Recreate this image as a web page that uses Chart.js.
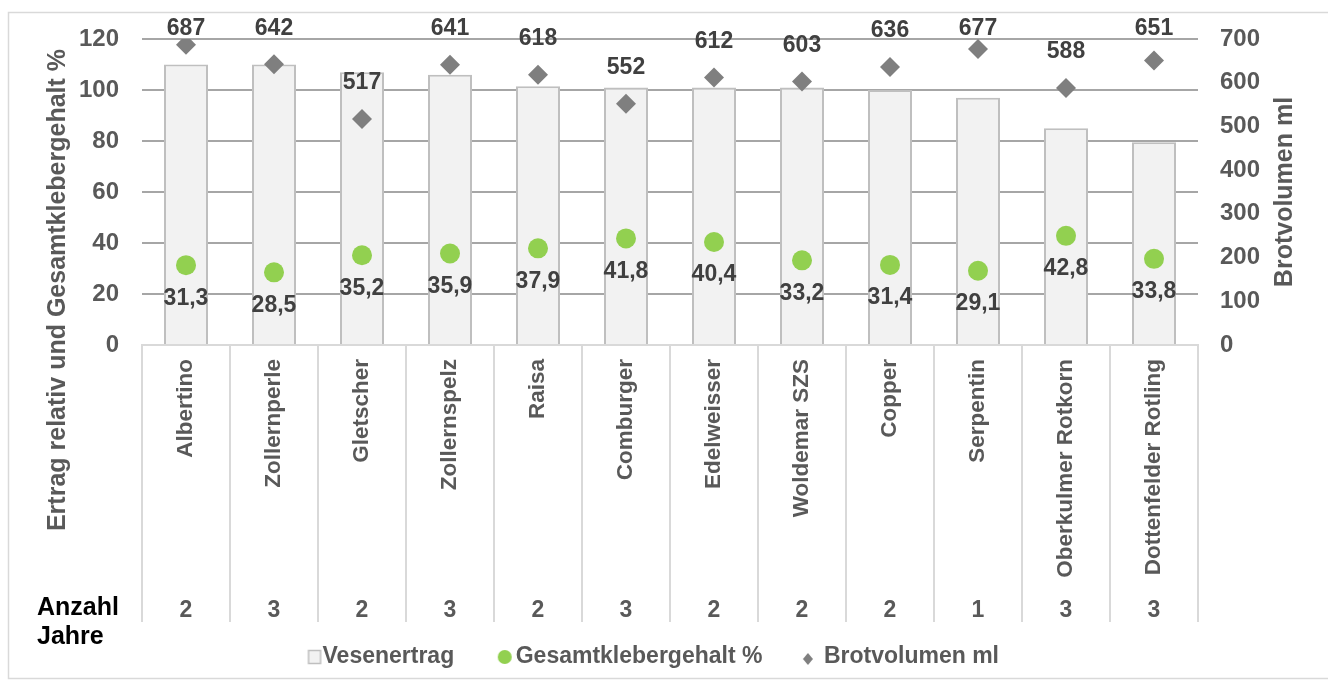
<!DOCTYPE html>
<html>
<head>
<meta charset="utf-8">
<script src="https://cdn.jsdelivr.net/npm/chart.js@4.4.0/dist/chart.umd.min.js"></script>
<style>
  html, body { margin: 0; padding: 0; background: #fff; }
  canvas { display: block; }
</style>
</head>
<body>
<canvas id="chart" width="1328" height="682"></canvas>
<script>
// Werte
const sorten = ['Albertino', 'Zollernperle', 'Gletscher', 'Zollernspelz', 'Raisa', 'Comburger',
    'Edelweisser', 'Woldemar SZS', 'Copper', 'Serpentin', 'Oberkulmer Rotkorn', 'Dottenfelder Rotling'];
const vesenertrag = [110, 110, 107, 106, 101.5, 101, 101, 101, 100, 97, 85, 79.5];
const klebergehalt = [31.3, 28.5, 35.2, 35.9, 37.9, 41.8, 40.4, 33.2, 31.4, 29.1, 42.8, 33.8];
const brotvolumen = [687, 642, 517, 641, 618, 552, 612, 603, 636, 677, 588, 651];
const anzahlJahre = [2, 3, 2, 3, 2, 3, 2, 2, 2, 1, 3, 3];

const FONT = "'Liberation Sans', Arial, sans-serif";
const GREY_TEXT = '#595959';
const LABEL_TEXT = '#404040';

Chart.defaults.font.family = FONT;

// small canvases used as legend markers (offset so they sit close to the text)
function makeMarker(dx, dy, size, draw) {
    const half = Math.max(Math.abs(dx), Math.abs(dy)) + size / 2 + 2;
    const cv = document.createElement('canvas');
    cv.width = cv.height = Math.ceil(half) * 2;
    const g = cv.getContext('2d');
    draw(g, cv.width / 2 + dx, cv.height / 2 + dy);
    return cv;
}

const legendMarkers = [
    makeMarker(10, 0, 14, (g, x, y) => {
        g.fillStyle = '#f2f2f2';
        g.strokeStyle = '#bfbfbf';
        g.lineWidth = 1.5;
        g.fillRect(x - 6, y - 6.5, 12, 13);
        g.strokeRect(x - 6, y - 6.5, 12, 13);
    }),
    makeMarker(7, 0, 14, (g, x, y) => {
        g.fillStyle = '#92d050';
        g.beginPath();
        g.arc(x, y, 7, 0, Math.PI * 2);
        g.fill();
    }),
    makeMarker(2, 2, 12, (g, x, y) => {
        g.fillStyle = '#7f7f7f';
        g.beginPath();
        g.moveTo(x, y - 6);
        g.lineTo(x + 5, y);
        g.lineTo(x, y + 6);
        g.lineTo(x - 5, y);
        g.closePath();
        g.fill();
    })
];

const extras = {
    id: 'extras',
    beforeDraw(chart) {
        const c = chart.ctx;
        c.save();
        c.strokeStyle = '#d9d9d9';
        c.lineWidth = 1.5;
        c.strokeRect(8.5, 12.5, 1340, 666);
        c.restore();
    },
    afterDatasetsDraw(chart) {
        const c = chart.ctx;
        c.save();
        c.font = 'bold 23px ' + FONT;
        c.fillStyle = LABEL_TEXT;
        c.textAlign = 'center';
        c.textBaseline = 'middle';
        chart.getDatasetMeta(2).data.forEach((p, i) => {
            c.fillText(String(brotvolumen[i]), p.x, Math.max(29, p.y - 36));
        });
        chart.getDatasetMeta(1).data.forEach((p, i) => {
            c.fillText(klebergehalt[i].toFixed(1).replace('.', ','), p.x, p.y + 33);
        });
        c.restore();
    },
    afterDraw(chart) {
        const c = chart.ctx;
        const x = chart.scales.x;
        const area = chart.chartArea;
        c.save();

        // table lines under the category axis
        c.strokeStyle = '#d9d9d9';
        c.lineWidth = 2;
        c.beginPath();
        for (let i = 0; i <= sorten.length; i++) {
            const px = Math.round(x.getPixelForValue(i - 0.5));
            c.moveTo(px, area.bottom);
            c.lineTo(px, 622);
        }
        c.stroke();

        // Anzahl Jahre row
        c.font = 'bold 23px ' + FONT;
        c.fillStyle = GREY_TEXT;
        c.textAlign = 'center';
        c.textBaseline = 'alphabetic';
        anzahlJahre.forEach((n, i) => {
            c.fillText(String(n), x.getPixelForValue(i), 617);
        });
        c.font = 'bold 25px ' + FONT;
        c.fillStyle = '#000';
        c.textAlign = 'left';
        c.fillText('Anzahl', 37, 615);
        c.fillText('Jahre', 37, 644);

        // axis titles
        c.font = 'bold 25px ' + FONT;
        c.fillStyle = GREY_TEXT;
        c.textAlign = 'center';
        c.textBaseline = 'middle';
        c.save();
        c.translate(58, 290);
        c.rotate(-Math.PI / 2);
        c.fillText('Ertrag relativ und Gesamtklebergehalt %', 0, 0);
        c.restore();
        c.save();
        c.translate(1285, (area.top + area.bottom) / 2);
        c.rotate(-Math.PI / 2);
        c.fillText('Brotvolumen ml', 0, 0);
        c.restore();

        c.restore();
    }
};

const ctx = document.getElementById('chart').getContext('2d');
new Chart(ctx, {
    type: 'bar',
    data: {
        labels: sorten,
        datasets: [{
            type: 'bar',
            label: 'Vesenertrag',
            data: vesenertrag,
            yAxisID: 'y',
            backgroundColor: '#f2f2f2',
            borderColor: '#bfbfbf',
            borderWidth: 2,
            barPercentage: 0.5,
            categoryPercentage: 1,
            order: 2
        }, {
            type: 'line',
            label: 'Gesamtklebergehalt %',
            data: klebergehalt,
            yAxisID: 'y',
            showLine: false,
            pointStyle: 'circle',
            pointRadius: 10,
            pointBackgroundColor: '#92d050',
            pointBorderWidth: 0,
            backgroundColor: '#92d050',
            order: 1
        }, {
            type: 'line',
            label: 'Brotvolumen ml',
            data: brotvolumen,
            yAxisID: 'y1',
            showLine: false,
            pointStyle: 'rectRot',
            pointRadius: 10,
            pointBackgroundColor: '#7f7f7f',
            pointBorderWidth: 0,
            backgroundColor: '#7f7f7f',
            order: 0
        }]
    },
    options: {
        responsive: false,
        animation: false,
        events: [],
        layout: {
            padding: { left: 0, right: 31, top: 39, bottom: 3.5 }
        },
        scales: {
            x: {
                ticks: {
                    minRotation: 90,
                    maxRotation: 90,
                    autoSkip: false,
                    padding: 14,
                    color: GREY_TEXT,
                    font: { size: 22.5, weight: 'bold' }
                },
                grid: { display: false, drawTicks: false },
                border: { display: true, color: '#d9d9d9', width: 2, z: 1 },
                afterFit(s) { s.height = 263.5; }
            },
            y: {
                position: 'left',
                min: 0,
                max: 120,
                ticks: {
                    stepSize: 20,
                    padding: 23,
                    color: GREY_TEXT,
                    font: { size: 24, weight: 'bold' }
                },
                grid: {
                    color: c => (c.tick && c.tick.value === 0) ? 'rgba(0,0,0,0)' : '#a6a6a6',
                    lineWidth: 2,
                    drawTicks: false
                },
                border: { display: false },
                afterFit(s) { s.width = 142; }
            },
            y1: {
                position: 'right',
                min: 0,
                max: 700,
                ticks: {
                    stepSize: 100,
                    padding: 22,
                    color: GREY_TEXT,
                    font: { size: 24, weight: 'bold' }
                },
                grid: { display: false, drawTicks: false },
                border: { display: false },
                afterFit(s) { s.width = 99; }
            }
        },
        plugins: {
            tooltip: { enabled: false },
            legend: {
                position: 'bottom',
                labels: {
                    usePointStyle: true,
                    boxWidth: 13,
                    boxHeight: 13,
                    padding: 37,
                    color: GREY_TEXT,
                    font: { size: 23, weight: 'bold' },
                    generateLabels(chart) {
                        const items = Chart.defaults.plugins.legend.labels.generateLabels(chart);
                        items.forEach(it => { it.pointStyle = legendMarkers[it.datasetIndex]; });
                        return items.sort((a, b) => a.datasetIndex - b.datasetIndex);
                    }
                }
            }
        }
    },
    plugins: [extras]
});
</script>
</body>
</html>
